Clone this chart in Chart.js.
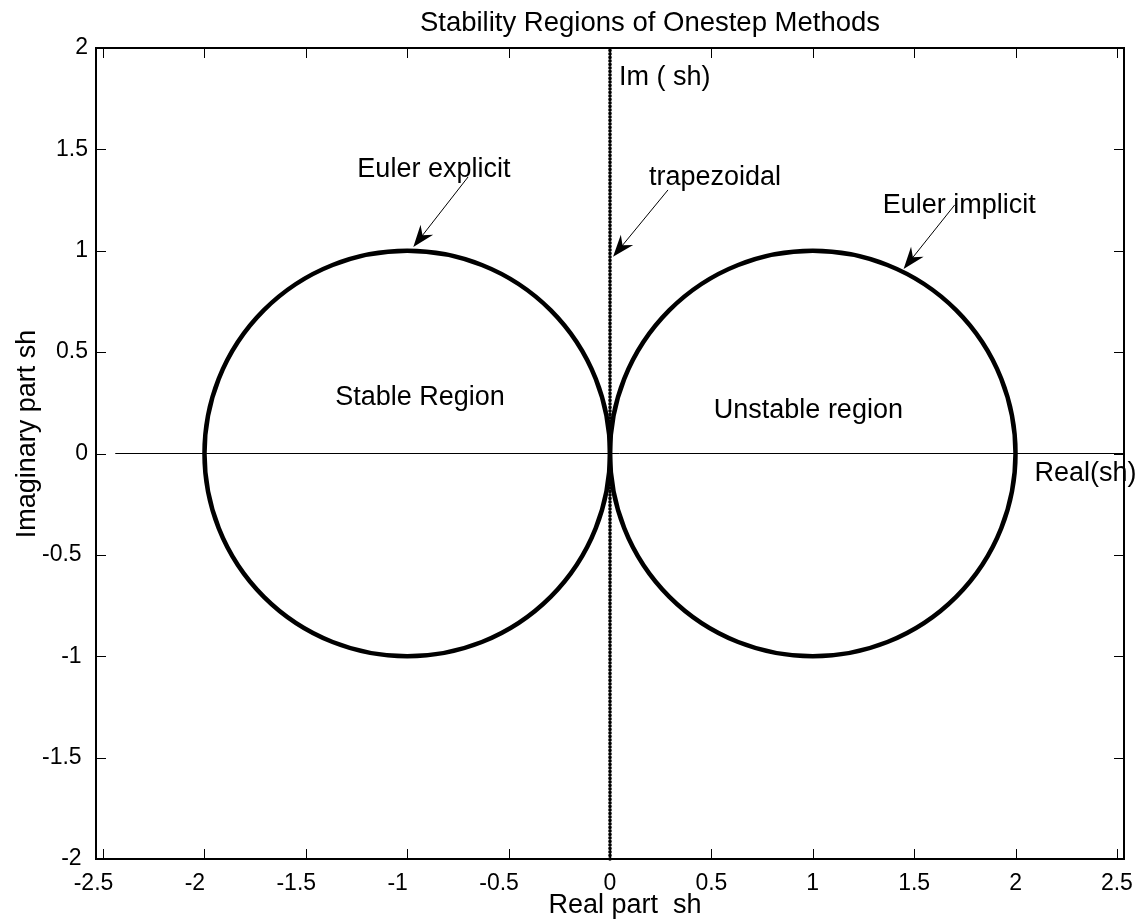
<!DOCTYPE html>
<html>
<head>
<meta charset="utf-8">
<title>Stability Regions of Onestep Methods</title>
<script src="https://cdn.jsdelivr.net/npm/chart.js@4.4.1/dist/chart.umd.min.js"></script>
<style>
    html, body { margin: 0; padding: 0; background: #fff; }
    #wrap { width: 1139px; height: 919px; }
</style>
</head>
<body>
<div id="wrap"><canvas id="stabilityChart"></canvas></div>
<script>
// Axis ticks and ranges
const xTicks = [-2.5, -2, -1.5, -1, -0.5, 0, 0.5, 1, 1.5, 2, 2.5];
const yTicks = [-2, -1.5, -1, -0.5, 0, 0.5, 1, 1.5, 2];
const xRange = [-2.535, 2.535];
const yRange = [-2, 2];

// Stability boundaries: Euler explicit |1+z|=1, Euler implicit |1-z|=1
const circleCenterX = [-1, 1];
const circleCenterY = [0, 0];
const circleRadius = [1, 1];

// trapezoidal boundary (imaginary axis)
const trapX = [0, 0];
const trapY = [-2, 2];

// real axis line
const realAxisX = [-2.44, 2.535];
const realAxisY = [0, 0];

// text annotations (left / baseline, data units)
const labelTexts = ['Euler explicit', 'trapezoidal', 'Im ( sh)', 'Euler implicit',
                    'Stable Region', 'Unstable region', 'Real(sh)'];
const labelX = [-1.246, 0.192, 0.044, 1.345, -1.355, 0.512, 2.094];
const labelY = [1.364, 1.324, 1.817, 1.186, 0.239, 0.175, -0.136];

// arrows (start -> tip, data units)
const arrowFromX = [-0.700, 0.286, 1.700];
const arrowFromY = [1.364, 1.300, 1.226];
const arrowToX = [-0.970, 0.015, 1.448];
const arrowToY = [1.018, 0.970, 0.910];

const FONT = '"Liberation Sans", Arial, Helvetica, sans-serif';

Chart.defaults.font.family = FONT;
Chart.defaults.color = '#000';

function toPoints(xs, ys) {
    return xs.map((v, i) => ({ x: v, y: ys[i] }));
}

// stability circles, drawn through the chart scales
const stabilityCircles = {
    id: 'stabilityCircles',
    afterDatasetsDraw(chart) {
        const { ctx, scales: { x, y } } = chart;
        ctx.save();
        ctx.strokeStyle = '#000';
        ctx.lineWidth = 4.5;
        circleCenterX.forEach((cx, i) => {
            const px = x.getPixelForValue(cx);
            const py = y.getPixelForValue(circleCenterY[i]);
            const rx = Math.abs(x.getPixelForValue(cx + circleRadius[i]) - px);
            const ry = Math.abs(y.getPixelForValue(circleCenterY[i] + circleRadius[i]) - py);
            ctx.beginPath();
            ctx.ellipse(px, py, rx, ry, 0, 0, Math.PI * 2);
            ctx.stroke();
        });
        ctx.restore();
    }
};

// MATLAB-like box, inward ticks, arrows and labels
const matlabAxes = {
    id: 'matlabAxes',
    beforeDraw(chart) {
        const ctx = chart.ctx;
        ctx.save();
        ctx.fillStyle = '#fff';
        ctx.fillRect(0, 0, chart.width, chart.height);
        ctx.restore();
    },
    afterDraw(chart) {
        const { ctx, chartArea: a, scales: { x, y } } = chart;
        ctx.save();

        // tick marks, inward on all four sides
        ctx.strokeStyle = '#000';
        ctx.lineWidth = 1;
        ctx.beginPath();
        xTicks.forEach(v => {
            const px = Math.round(x.getPixelForValue(v)) + 0.5;
            ctx.moveTo(px, a.bottom); ctx.lineTo(px, a.bottom - 10);
            ctx.moveTo(px, a.top); ctx.lineTo(px, a.top + 10);
        });
        yTicks.forEach(v => {
            const py = Math.round(y.getPixelForValue(v)) + 0.5;
            ctx.moveTo(a.left, py); ctx.lineTo(a.left + 10, py);
            ctx.moveTo(a.right, py); ctx.lineTo(a.right - 10, py);
        });
        ctx.stroke();

        // box
        ctx.lineWidth = 2;
        ctx.strokeRect(a.left, a.top, a.right - a.left, a.bottom - a.top);

        // arrows
        ctx.lineWidth = 1;
        ctx.fillStyle = '#000';
        arrowFromX.forEach((v, i) => {
            const sx = x.getPixelForValue(v), sy = y.getPixelForValue(arrowFromY[i]);
            const tx = x.getPixelForValue(arrowToX[i]), ty = y.getPixelForValue(arrowToY[i]);
            const len = Math.hypot(tx - sx, ty - sy);
            const dx = (tx - sx) / len, dy = (ty - sy) / len;
            const nx = -dy, ny = dx;
            const L = 22, W = 8;
            ctx.beginPath();
            ctx.moveTo(sx, sy);
            ctx.lineTo(tx - dx * L * 0.6, ty - dy * L * 0.6);
            ctx.stroke();
            ctx.beginPath();
            ctx.moveTo(tx, ty);
            ctx.lineTo(tx - dx * L + nx * W, ty - dy * L + ny * W);
            ctx.lineTo(tx - dx * L * 0.68, ty - dy * L * 0.68);
            ctx.lineTo(tx - dx * L - nx * W, ty - dy * L - ny * W);
            ctx.closePath();
            ctx.fill();
        });

        // annotation texts
        ctx.font = '27px ' + FONT;
        ctx.textAlign = 'left';
        ctx.textBaseline = 'alphabetic';
        labelTexts.forEach((t, i) => {
            ctx.fillText(t, x.getPixelForValue(labelX[i]), y.getPixelForValue(labelY[i]));
        });

        // title and axis labels
        ctx.font = '27.5px ' + FONT;
        ctx.textAlign = 'center';
        ctx.fillText('Stability Regions of Onestep Methods', 650, 31);
        ctx.font = '27px ' + FONT;
        ctx.fillText('Real part  sh', 625, 913);
        ctx.translate(35, 434);
        ctx.rotate(-Math.PI / 2);
        ctx.fillText('Imaginary part sh', 0, 0);

        ctx.restore();
    }
};

const stabilityCtx = document.getElementById('stabilityChart');
const stabilityChart = new Chart(stabilityCtx, {
    type: 'scatter',
    data: {
        datasets: [
            {
                label: 'real axis',
                data: toPoints(realAxisX, realAxisY),
                showLine: true,
                borderColor: '#000',
                borderWidth: 1,
                pointRadius: 0
            },
            {
                label: 'trapezoidal',
                data: toPoints(trapX, trapY),
                showLine: true,
                borderColor: '#000',
                borderWidth: 3.6,
                borderDash: [0.1, 3.4],
                borderCapStyle: 'round',
                pointRadius: 0,
                clip: false
            }
        ]
    },
    options: {
        responsive: true,
        maintainAspectRatio: false,
        animation: false,
        events: [],
        layout: {
            padding: { top: 48, right: 15, left: 0, bottom: 0 }
        },
        plugins: {
            legend: { display: false },
            tooltip: { enabled: false },
            title: { display: false }
        },
        scales: {
            x: {
                type: 'linear',
                min: xRange[0],
                max: xRange[1],
                grid: { display: false, drawTicks: false },
                border: { display: false },
                afterBuildTicks: scale => { scale.ticks = xTicks.map(v => ({ value: v })); },
                afterFit: scale => {
                    scale.height = 60;
                    scale.paddingLeft = 0;
                    scale.paddingRight = 0;
                },
                ticks: {
                    font: { size: 23 },
                    color: '#000',
                    padding: 11,
                    maxRotation: 0,
                    minRotation: 0,
                    autoSkip: false,
                    callback: v => (v < 0 ? v + '   ' : String(v))
                }
            },
            y: {
                type: 'linear',
                min: yRange[0],
                max: yRange[1],
                grid: { display: false, drawTicks: false },
                border: { display: false },
                afterBuildTicks: scale => { scale.ticks = yTicks.map(v => ({ value: v })); },
                afterFit: scale => {
                    scale.width = 96;
                    scale.paddingTop = 0;
                    scale.paddingBottom = 0;
                },
                ticks: {
                    font: { size: 23 },
                    color: '#000',
                    padding: 8,
                    autoSkip: false,
                    callback: v => (v < 0 ? v + ' ' : String(v))
                }
            }
        }
    },
    plugins: [stabilityCircles, matlabAxes]
});
</script>
</body>
</html>
